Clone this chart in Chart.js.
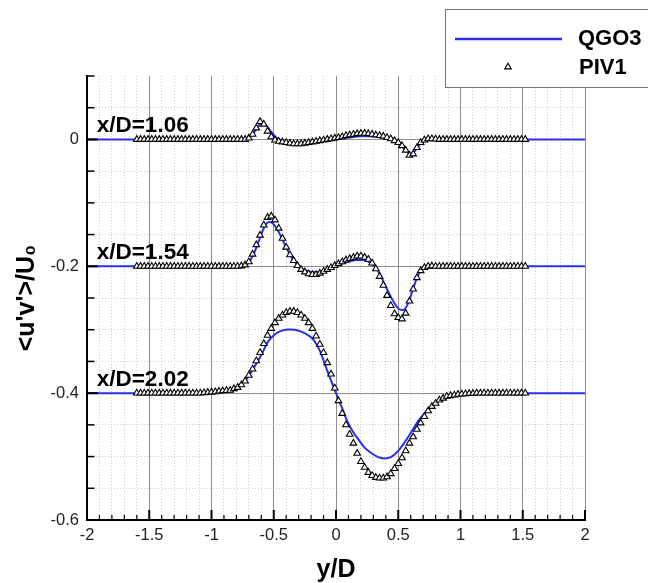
<!DOCTYPE html>
<html><head><meta charset="utf-8">
<script src="https://cdn.jsdelivr.net/npm/chart.js@4.4.1/dist/chart.umd.min.js"></script>
<style>html,body{margin:0;padding:0;background:#fff;}#wrap{position:relative;width:648px;height:583px;}canvas{display:block;}</style>
</head><body><div id="wrap"><canvas id="c" width="648" height="583"></canvas></div>
<script>
// ---- axis ticks / labels ----
const xTickValues = [-2, -1.5, -1, -0.5, 0, 0.5, 1, 1.5, 2];
const xTickLabels = ['-2', '-1.5', '-1', '-0.5', '0', '0.5', '1', '1.5', '2'];
const yTickValues = [-0.6, -0.4, -0.2, 0];
const yTickLabels = ['-0.6', '-0.4', '-0.2', '0'];
const seriesNames = ['QGO3', 'PIV1'];
const profileLabels = ['x/D=1.06', 'x/D=1.54', 'x/D=2.02'];
const profileLevels = [0, -0.2, -0.4];

// ---- PIV1 sample positions (y/D) ----
const pivY = [-1.60,-1.57,-1.54,-1.51,-1.48,-1.45,-1.42,-1.39,-1.36,-1.33,
  -1.30,-1.27,-1.24,-1.21,-1.18,-1.15,-1.12,-1.09,-1.06,-1.03,
  -1.00,-0.97,-0.94,-0.91,-0.88,-0.85,-0.82,-0.79,-0.76,-0.73,
  -0.70,-0.67,-0.64,-0.61,-0.58,-0.55,-0.52,-0.49,-0.46,-0.43,
  -0.40,-0.37,-0.34,-0.31,-0.28,-0.25,-0.22,-0.19,-0.16,-0.13,
  -0.10,-0.07,-0.04,-0.01,0.02,0.05,0.08,0.11,0.14,0.17,
  0.20,0.23,0.26,0.29,0.32,0.35,0.38,0.41,0.44,0.47,
  0.50,0.53,0.56,0.59,0.62,0.65,0.68,0.71,0.74,0.77,
  0.80,0.83,0.86,0.89,0.92,0.95,0.98,1.01,1.04,1.07,
  1.10,1.13,1.16,1.19,1.22,1.25,1.28,1.31,1.34,1.37,
  1.40,1.43,1.46,1.49,1.52];

// ---- PIV1 values ----
const piv106 = [0,0,0,0,0,0,0,0,0,0,
  0,0,0,0,0,0,0,0,0,0,
  0,0,0,0,0,0,0,0,0,0,
  0.002,0.008,0.018,0.028,0.024,0.013,0.004,-0.001,-0.003,-0.004,
  -0.005,-0.006,-0.007,-0.007,-0.007,-0.006,-0.005,-0.004,-0.003,-0.002,
  -0.001,0.000,0.001,0.002,0.003,0.004,0.006,0.007,0.008,0.009,
  0.0095,0.0095,0.009,0.008,0.007,0.006,0.005,0.003,0.001,-0.002,
  -0.005,-0.010,-0.017,-0.025,-0.023,-0.013,-0.005,-0.001,0.001,0.001,
  0.0005,0,0,0,0,0,0,0,0,0,
  0,0,0,0,0,0,0,0,0,0,
  0,0,0,0,0];
const piv154 = [-0.2,-0.2,-0.2,-0.2,-0.2,-0.2,-0.2,-0.2,-0.2,-0.2,
  -0.2,-0.2,-0.2,-0.2,-0.2,-0.2,-0.2,-0.2,-0.2,-0.2,
  -0.2,-0.2,-0.2,-0.2,-0.2,-0.2,-0.2,-0.2,-0.1995,-0.198,
  -0.193,-0.181,-0.166,-0.151,-0.135,-0.123,-0.121,-0.127,-0.140,-0.156,
  -0.170,-0.182,-0.191,-0.199,-0.205,-0.209,-0.212,-0.213,-0.213,-0.211,
  -0.208,-0.205,-0.202,-0.199,-0.196,-0.193,-0.190,-0.188,-0.186,-0.184,
  -0.184,-0.186,-0.189,-0.195,-0.204,-0.216,-0.230,-0.246,-0.262,-0.275,
  -0.281,-0.283,-0.274,-0.255,-0.236,-0.218,-0.207,-0.202,-0.200,-0.1995,
  -0.2,-0.2,-0.2,-0.2,-0.2,-0.2,-0.2,-0.2,-0.2,-0.2,
  -0.2,-0.2,-0.2,-0.2,-0.2,-0.2,-0.2,-0.2,-0.2,-0.2,
  -0.2,-0.2,-0.2,-0.2,-0.2];
const piv202 = [-0.4,-0.4,-0.4,-0.4,-0.4,-0.4,-0.4,-0.4,-0.4,-0.4,
  -0.4,-0.4,-0.4,-0.4,-0.4,-0.4,-0.4,-0.4,-0.3995,-0.399,
  -0.3985,-0.398,-0.397,-0.3965,-0.396,-0.3955,-0.393,-0.391,-0.387,-0.381,
  -0.372,-0.362,-0.349,-0.336,-0.322,-0.309,-0.298,-0.289,-0.282,-0.277,
  -0.273,-0.271,-0.271,-0.273,-0.277,-0.282,-0.289,-0.298,-0.310,-0.323,
  -0.336,-0.352,-0.370,-0.392,-0.412,-0.432,-0.450,-0.465,-0.479,-0.495,
  -0.508,-0.517,-0.525,-0.530,-0.533,-0.534,-0.534,-0.532,-0.527,-0.519,
  -0.511,-0.502,-0.491,-0.479,-0.469,-0.457,-0.447,-0.437,-0.428,-0.421,
  -0.416,-0.411,-0.408,-0.405,-0.404,-0.403,-0.402,-0.4015,-0.401,-0.4005,
  -0.4005,-0.4,-0.4,-0.4,-0.4,-0.4,-0.4,-0.4,-0.4,-0.4,
  -0.4,-0.4,-0.4,-0.4,-0.4];

// ---- QGO3 curves ----
const qgo106X = [-2,-0.8,-0.72,-0.68,-0.64,-0.61,-0.59,-0.56,-0.52,-0.48,-0.44,-0.38,-0.30,-0.22,-0.12,0,0.1,0.2,0.28,0.36,0.44,0.50,0.55,0.59,0.61,0.64,0.68,0.72,0.8,2];
const qgo106 = [0,0,0.001,0.006,0.016,0.024,0.026,0.022,0.012,0.003,-0.002,-0.005,-0.006,-0.005,-0.003,0,0.003,0.005,0.005,0.004,0.001,-0.005,-0.015,-0.022,-0.023,-0.017,-0.006,-0.001,0,0];
const qgo154X = [-2,-0.8,-0.74,-0.70,-0.66,-0.62,-0.58,-0.55,-0.53,-0.50,-0.46,-0.42,-0.38,-0.34,-0.28,-0.22,-0.15,-0.08,0,0.08,0.16,0.22,0.28,0.34,0.40,0.46,0.51,0.54,0.58,0.62,0.66,0.70,0.76,0.85,2];
const qgo154 = [-0.2,-0.2,-0.199,-0.194,-0.180,-0.160,-0.140,-0.131,-0.130,-0.134,-0.146,-0.162,-0.178,-0.191,-0.203,-0.208,-0.209,-0.206,-0.199,-0.194,-0.190,-0.190,-0.195,-0.208,-0.232,-0.255,-0.268,-0.269,-0.258,-0.235,-0.214,-0.203,-0.200,-0.2,-0.2];
const qgo202X = [-2,-1.1,-1.0,-0.9,-0.8,-0.72,-0.66,-0.60,-0.55,-0.49,-0.43,-0.38,-0.33,-0.28,-0.23,-0.18,-0.13,-0.075,-0.03,0,0.05,0.09,0.13,0.18,0.23,0.28,0.33,0.39,0.44,0.50,0.55,0.60,0.66,0.73,0.80,0.87,0.95,1.05,1.2,2];
const qgo202 = [-0.4,-0.4,-0.3995,-0.397,-0.390,-0.378,-0.360,-0.340,-0.320,-0.307,-0.301,-0.2995,-0.300,-0.303,-0.308,-0.316,-0.333,-0.362,-0.385,-0.400,-0.424,-0.444,-0.459,-0.473,-0.486,-0.494,-0.500,-0.503,-0.501,-0.491,-0.478,-0.463,-0.444,-0.428,-0.416,-0.409,-0.404,-0.401,-0.4,-0.4];

// ---- styling ----
const FONT = "'Liberation Sans', Arial, Helvetica, sans-serif";
const BLUE = '#2d2df2';
const X_MIN = -2, X_MAX = 2, Y_MIN = -0.6, Y_MAX = 0.1;

const toPts = (xs, ys) => xs.map((x, i) => ({ x: x, y: ys[i] }));
const near = (v, step) => Math.abs(v / step - Math.round(v / step)) < 1e-6;

const lineDs = (xs, ys) => ({
  label: seriesNames[0], data: toPts(xs, ys), showLine: true, borderColor: BLUE,
  backgroundColor: BLUE, borderWidth: 2, pointRadius: 0, pointHoverRadius: 0,
  fill: false, cubicInterpolationMode: 'monotone', order: 2
});
const pivDs = ys => ({
  label: seriesNames[1], data: toPts(pivY, ys), showLine: false, pointStyle: 'triangle',
  pointRadius: 3.8, pointHoverRadius: 3.8, borderColor: '#000', backgroundColor: '#fff',
  borderWidth: 1.1, order: 1
});

const innerTicks = {
  id: 'innerTicks',
  afterDatasetsDraw(chart) {
    const { ctx, chartArea: a, scales } = chart;
    ctx.save();
    ctx.strokeStyle = '#000';
    scales.xMinor.ticks.forEach(t => {
      const px = scales.x.getPixelForValue(t.value);
      const major = near(t.value, 0.5);
      ctx.lineWidth = major ? 2 : 1.2;
      ctx.beginPath(); ctx.moveTo(px, a.bottom); ctx.lineTo(px, a.bottom - (major ? 10 : 5)); ctx.stroke();
    });
    scales.yMinor.ticks.forEach(t => {
      const py = scales.y.getPixelForValue(t.value);
      const major = near(t.value, 0.2);
      ctx.lineWidth = major ? 2 : 1.5;
      ctx.beginPath(); ctx.moveTo(a.left, py); ctx.lineTo(a.left + (major ? 11 : 7.5), py); ctx.stroke();
    });
    ctx.restore();
  }
};

const profileText = {
  id: 'profileText',
  afterDatasetsDraw(chart) {
    const { ctx, scales: { x, y } } = chart;
    ctx.save();
    ctx.font = 'bold 22.5px ' + FONT;
    ctx.fillStyle = '#000';
    ctx.textAlign = 'left';
    ctx.textBaseline = 'alphabetic';
    profileLabels.forEach((t, i) => {
      ctx.fillText(t, x.getPixelForValue(-1.922), y.getPixelForValue(profileLevels[i] + 0.011));
    });
    ctx.restore();
  }
};

const boxLegend = {
  id: 'boxLegend',
  afterDraw(chart) {
    const ctx = chart.ctx;
    ctx.save();
    ctx.fillStyle = '#fff';
    ctx.fillRect(445, 9, 230, 78);
    ctx.strokeStyle = '#777';
    ctx.lineWidth = 1;
    ctx.strokeRect(445.5, 9.5, 230, 78);
    ctx.strokeStyle = BLUE;
    ctx.lineWidth = 2.5;
    ctx.beginPath(); ctx.moveTo(455, 39); ctx.lineTo(562, 39); ctx.stroke();
    ctx.fillStyle = '#fff';
    ctx.strokeStyle = '#000';
    ctx.lineWidth = 1.1;
    Chart.helpers.drawPoint(ctx, { pointStyle: 'triangle', radius: 3.8, rotation: 0, borderWidth: 1.1 }, 508, 67);
    ctx.fillStyle = '#000';
    ctx.font = 'bold 22px ' + FONT;
    ctx.textAlign = 'left';
    ctx.textBaseline = 'middle';
    ctx.fillText(seriesNames[0], 578, 39);
    ctx.fillText(seriesNames[1], 579, 68);
    ctx.restore();
  }
};

new Chart(document.getElementById('c'), {
  type: 'scatter',
  data: {
    datasets: [
      pivDs(piv106), pivDs(piv154), pivDs(piv202),
      lineDs(qgo106X, qgo106), lineDs(qgo154X, qgo154), lineDs(qgo202X, qgo202)
    ]
  },
  options: {
    responsive: false,
    devicePixelRatio: 1,
    animation: false,
    layout: { padding: { left: 15, right: 63, top: 76, bottom: 0 } },
    plugins: { legend: { display: false }, tooltip: { enabled: false }, title: { display: false } },
    scales: {
      x: {
        type: 'linear', position: 'bottom', min: X_MIN, max: X_MAX,
        afterBuildTicks: s => { s.ticks = xTickValues.map(v => ({ value: v })); },
        afterFit: s => { s.height = 63; },
        ticks: {
          autoSkip: false, maxRotation: 0, padding: 6, color: '#222',
          font: { family: FONT, size: 16.5 },
          callback: v => xTickLabels[xTickValues.findIndex(t => Math.abs(t - v) < 1e-9)]
        },
        grid: { color: '#8c8c8c', lineWidth: 1, drawTicks: false, z: -1 },
        border: { display: true, color: '#000', width: 2 },
        title: { display: true, text: 'y/D', color: '#000', padding: 0, font: { family: FONT, size: 25, weight: 'bold', lineHeight: 1 } }
      },
      xMinor: {
        type: 'linear', position: 'bottom', min: X_MIN, max: X_MAX,
        afterBuildTicks: s => { const a = []; for (let i = -20; i <= 20; i++) a.push({ value: i / 10 }); s.ticks = a; },
        afterFit: s => { s.height = 0; },
        ticks: { display: false },
        grid: { color: '#cdcdcd', lineWidth: 1, drawTicks: false, z: -2 },
        border: { display: false, dash: [1, 2] }
      },
      y: {
        type: 'linear', position: 'left', min: Y_MIN, max: Y_MAX,
        afterBuildTicks: s => { s.ticks = yTickValues.map(v => ({ value: v })); },
        afterFit: s => { s.width = 72; },
        ticks: {
          padding: 8, color: '#222', font: { family: FONT, size: 16.5 },
          callback: v => yTickLabels[yTickValues.findIndex(t => Math.abs(t - v) < 1e-9)]
        },
        grid: { color: '#8c8c8c', lineWidth: 1, drawTicks: false, z: -1 },
        border: { display: true, color: '#000', width: 2 },
        title: { display: true, text: "<u'v'>/U\u2080", color: '#000', padding: 0, font: { family: FONT, size: 25, weight: 'bold', lineHeight: 1 } }
      },
      yMinor: {
        type: 'linear', position: 'left', min: Y_MIN, max: Y_MAX,
        afterBuildTicks: s => { const a = []; for (let i = -12; i <= 2; i++) a.push({ value: i / 20 }); s.ticks = a; },
        afterFit: s => { s.width = 0; },
        ticks: { display: false },
        grid: { color: c => (c.tick && c.tick.value > 0.09) ? 'rgba(0,0,0,0)' : '#cdcdcd', lineWidth: 1, drawTicks: false, z: -2 },
        border: { display: false, dash: [1, 2] }
      }
    }
  },
  plugins: [innerTicks, profileText, boxLegend]
});
</script></body></html>
